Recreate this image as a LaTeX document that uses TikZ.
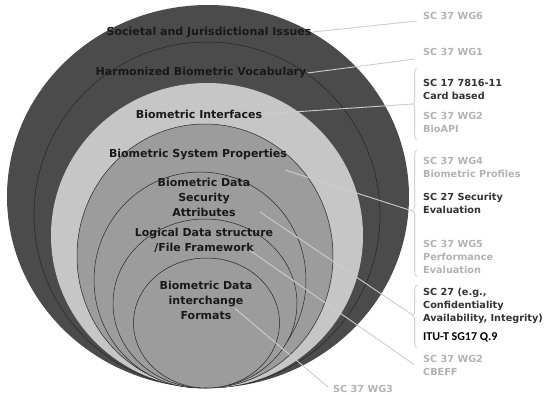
\documentclass[tikz,border=0pt]{standalone}
\usepackage{fontspec}
\setmainfont{DejaVu Sans}
\newfontfamily\itufont{Carlito}
\usetikzlibrary{decorations.pathreplacing}
\definecolor{ringDark}{HTML}{4B4B4B}
\definecolor{ringLight}{HTML}{C6C6C6}
\definecolor{ringMid}{HTML}{9C9C9C}
\definecolor{leadGray}{HTML}{CDCDCD}
\definecolor{tagGray}{HTML}{B2B2B2}
\definecolor{tagDark}{HTML}{333333}

\begin{document}
\begin{tikzpicture}[x=1pt, y=-1pt,
  ring/.style={draw=black!85, line width=0.5pt},
  title/.style={font=\bfseries\fontsize{11}{15}\selectfont, text=black!90, align=center, inner sep=1pt},
  tag/.style={font=\bfseries\fontsize{9.7}{13}\selectfont, text=tagGray, align=left, anchor=west, inner sep=1pt},
  tagdk/.style={tag, text=tagDark},
  lead/.style={draw=leadGray, line width=0.9pt},
  brc/.style={draw=tagGray!85, line width=0.6pt, decorate, decoration={brace, amplitude=4.5pt, aspect=#1}}]
\useasboundingbox (0,0) rectangle (544,394);
% nested rings, all touching at the bottom
\fill[ringDark] (208,196.5) ellipse [x radius=201, y radius=191.5];
\filldraw[ring, fill=ringDark] (207,215) ellipse [x radius=173, y radius=173];
\fill[ringLight] (207,235.5) ellipse [x radius=156, y radius=152.5];
\filldraw[ring, fill=ringMid] (205,256) ellipse [x radius=128, y radius=132];
\filldraw[ring, fill=ringMid] (200,280) ellipse [x radius=106, y radius=108];
\filldraw[ring, fill=ringMid] (205,303.5) ellipse [x radius=92, y radius=84.5];
\filldraw[ring, fill=ringMid] (206.5,323) ellipse [x radius=73, y radius=65];

% ring titles
\node[title] (soc) at (209,32) {Societal and Jurisdictional Issues};
\node[title] (hbv) at (201,73) {Harmonized Biometric Vocabulary};
\node[title] (bif) at (199,114) {Biometric Interfaces};
\node[title] (bsp) at (198,155) {Biometric System Properties};
\node[title] (bdsa) at (204,197) {Biometric Data\\Security\\Attributes};
\node[title] (ldsf) at (204,240.5) {Logical Data structure\\/File Framework};
\node[title] (bdif) at (206,300.5) {Biometric Data\\interchange\\Formats};

% committees on the right
\node[tag] (wg6) at (422,16) {SC 37 WG6};
\node[tag] (wg1) at (422,52) {SC 37 WG1};
\node[tagdk] (sc17) at (422,89.5) {SC 17 7816-11\\Card based};
\node[tag] (wg2a) at (422,122) {SC 37 WG2\\BioAPI};
\node[tag] (wg4) at (422,167) {SC 37 WG4\\Biometric Profiles};
\node[tagdk] (sc27a) at (422,203) {SC 27 Security\\Evaluation};
\node[tag] (wg5) at (422,256.5) {SC 37 WG5\\Performance\\Evaluation};
\node[tagdk] (sc27b) at (422,306) {SC 27 (e.g.,\\Confidentiality\\Availability, Integrity)};
\node[tag, text=black, font=\itufont\bfseries\fontsize{12}{13}\selectfont] (itu) at (422,337) {ITU-T SG17 Q.9};
\node[tag] (wg2b) at (422,365.5) {SC 37 WG2\\CBEFF};
\node[tag] (wg3) at (332,389) {SC 37 WG3};

% braces
\draw[brc=0.5] (417,140) -- (417,68);
\draw[brc=0.52] (417,277) -- (417,150);
\draw[brc=0.52] (417,348) -- (417,285);
\coordinate (tip1) at (412.5,104);
\coordinate (tip2) at (412.5,211);
\coordinate (tip3) at (412.5,315);

% leader lines
\draw[lead] (soc.east) -- ([shift={(-5,5)}]wg6.west);
\draw[lead] (hbv.east) -- ([shift={(-7,7)}]wg1.west);
\draw[lead] (bif.east) -- (tip1);
\draw[lead] ([shift={(87,15)}]bsp.center) -- (tip2);
\draw[lead] ([shift={(56,15)}]bdsa.center) -- (tip3);
\draw[lead] ([shift={(46,10)}]ldsf.center) -- ([shift={(-8,-1)}]wg2b.west);
\draw[lead] ([shift={(29,8)}]bdif.center) -- ([shift={(-4,-2)}]wg3.west);
\end{tikzpicture}
\end{document}
